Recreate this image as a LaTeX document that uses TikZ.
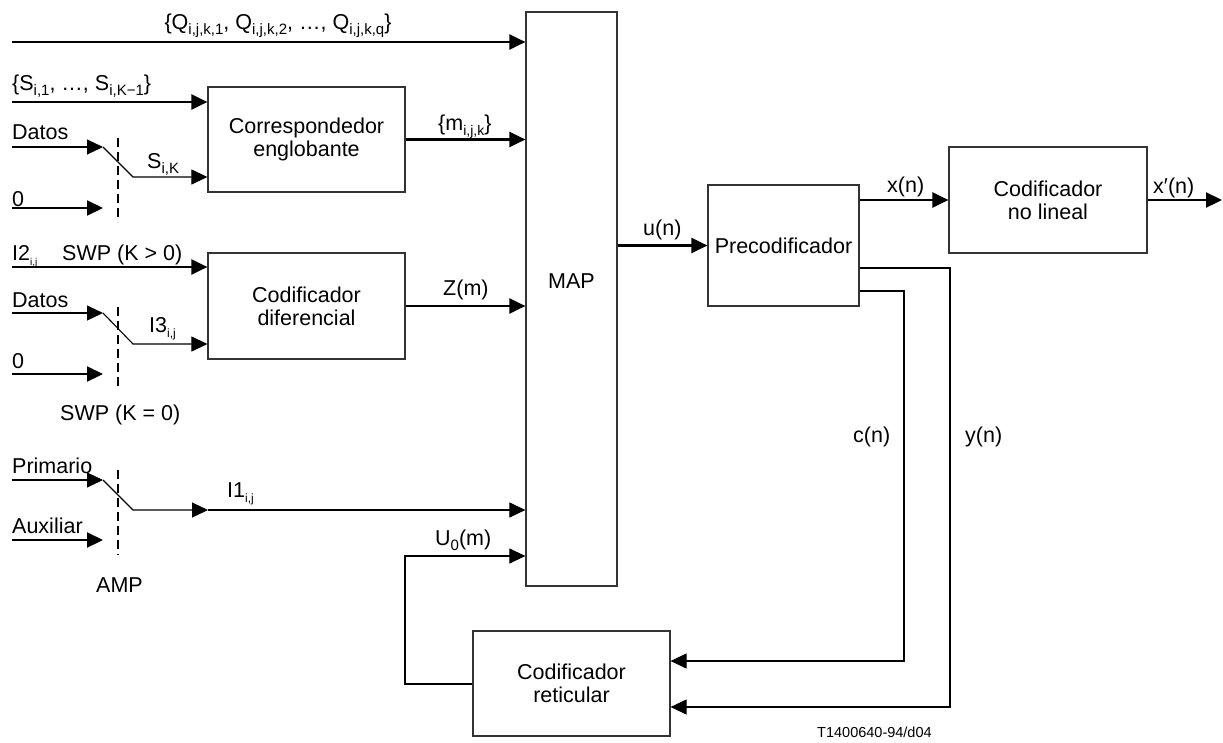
\documentclass[tikz,border=0pt]{standalone}
\usepackage{fontspec}
\setmainfont{Liberation Sans}
\usetikzlibrary{arrows.meta}
\newcommand{\sbs}[2]{\raisebox{-5pt}{\fontsize{#1}{#1}\selectfont #2}}
\begin{document}
\begin{tikzpicture}[x=1pt,y=-1pt,
  every node/.style={font=\fontsize{21.5}{23}\selectfont, inner sep=0pt},
  blk/.style={draw=black!80, line width=1.2pt, align=center},
  sig/.style={line width=2.2pt, -{Triangle[length=16pt,width=15pt]}},
  wire/.style={line width=1.1pt},
  wirea/.style={line width=1.1pt, -{Triangle[length=16pt,width=15pt]}},
  swl/.style={line width=2pt, dash pattern=on 9pt off 5pt},
  lbl/.style={anchor=base west}]
\useasboundingbox (0,0) rectangle (1223,742);

% blocks
\node[blk, minimum width=197, minimum height=105] (ce) at (306.5,139.5) {Correspondedor\\englobante};
\node[blk, minimum width=197, minimum height=106] (cd) at (306.5,306) {Codificador\\diferencial};
\node[blk, minimum width=91, minimum height=574] (map) at (571.5,299) {};
\node[anchor=base] (maplbl) at (571.5,288) {MAP};
\node[blk, minimum width=151, minimum height=121] (pre) at (783.5,245.5) {Precodificador};
\node[blk, minimum width=198, minimum height=106] (nl) at (1048,200) {Codificador\\no lineal};
\node[blk, minimum width=197, minimum height=105] (ret) at (571.5,683.5) {Codificador\\reticular};

% free-end coordinates
\coordinate (qin) at (12,42);
\coordinate (sin) at (12,102);
\coordinate (d1a) at (12,147);
\coordinate (d1b) at (103,147);
\coordinate (d1c) at (133,177);
\coordinate (z1a) at (12,208);
\coordinate (z1b) at (103,208);
\coordinate (i2a) at (12,267);
\coordinate (d2a) at (12,313);
\coordinate (d2b) at (103,313);
\coordinate (d2c) at (133,344);
\coordinate (z2a) at (12,374);
\coordinate (z2b) at (103,374);
\coordinate (pra) at (12,480);
\coordinate (prb) at (103,480);
\coordinate (prc) at (133,510);
\coordinate (prm) at (208,510);
\coordinate (aua) at (12,540);
\coordinate (aub) at (103,540);
\coordinate (u0a) at (405,684);
\coordinate (u0b) at (405,556);
\coordinate (xout) at (1222,200);
\coordinate (yr) at (950,268);
\coordinate (cr) at (904,291);
\coordinate (ybot) at (950,707);
\coordinate (cbot) at (904,661);

% switch dashed lines
\coordinate (s1t) at (118,138); \coordinate (s1b) at (118,222);
\coordinate (s2t) at (118,307); \coordinate (s2b) at (118,388);
\coordinate (s3t) at (118,470); \coordinate (s3b) at (118,555);
\draw[swl] (s1t) -- (s1b);
\draw[swl] (s2t) -- (s2b);
\draw[swl] (s3t) -- (s3b);

% connectors
\draw[sig] (qin) -- (map.west |- qin);
\draw[sig] (sin) -- (ce.west |- sin);
\draw[wirea] (d1a) -- (d1b);
\draw[wirea] (d1b) -- (d1c) -- (ce.west |- d1c);
\draw[sig] (z1a) -- (z1b);
\draw[sig] (ce.east) -- (map.west |- ce.east);
\draw[sig] (i2a) -- (cd.west |- i2a);
\draw[wirea] (d2a) -- (d2b);
\draw[wirea] (d2b) -- (d2c) -- (cd.west |- d2c);
\draw[sig] (z2a) -- (z2b);
\draw[sig] (cd.east) -- (map.west |- cd.east);
\draw[wirea] (pra) -- (prb);
\draw[wirea] (prb) -- (prc) -- (prm);
\draw[wirea] (prm) -- (map.west |- prm);
\draw[sig] (aua) -- (aub);
\draw[wirea] (ret.west |- u0a) -- (u0a) -- (u0b) -- (map.west |- u0b);
\draw[sig] (map.east |- pre.west) -- (pre.west);
\draw[sig] (pre.east |- nl.west) -- (nl.west);
\draw[sig] (nl.east |- xout) -- (xout);
\draw[wirea] (pre.east |- yr) -- (yr) -- (ybot) -- (ret.east |- ybot);
\draw[wirea] (pre.east |- cr) -- (cr) -- (cbot) -- (ret.east |- cbot);

% labels
\node[anchor=base] (lq) at (278,29) {\{Q\sbs{15}{i,j,k,1}, Q\sbs{15}{i,j,k,2}, …, Q\sbs{15}{i,j,k,q}\}};
\node[lbl] (ls) at (12,90) {\{S\sbs{15}{i,1}, …, S\sbs{15}{i,K−1}\}};
\node[lbl] (ld1) at (12,139) {Datos};
\node[lbl] (lsk) at (147,168) {S\sbs{15}{i,K}};
\node[lbl] (l01) at (12,206) {0};
\node[lbl] (lm) at (438,130) {\{m\sbs{14}{i,j,k}\}};
\node[lbl] (li2) at (12,260) {I2\sbs{10}{i,j}};
\node[lbl] (lswp1) at (62,260) {SWP (K > 0)};
\node[lbl] (ld2) at (12,307) {Datos};
\node[lbl] (li3) at (149,332) {I3\sbs{12}{i,j}};
\node[lbl] (l02) at (12,368) {0};
\node[lbl] (lz) at (443,295) {Z(m)};
\node[lbl] (lswp2) at (60,420) {SWP (K = 0)};
\node[lbl] (lpr) at (12,473) {Primario};
\node[lbl] (li1) at (227,497) {I1\sbs{12}{i,j}};
\node[lbl] (lau) at (12,533) {Auxiliar};
\node[anchor=base] (lamp) at (119.5,592) {AMP};
\node[lbl] (lu0) at (435,545) {U\sbs{15}{0}(m)};
\node[lbl] (lu) at (643,235) {u(n)};
\node[lbl] (lx) at (887,192) {x(n)};
\node[lbl] (lxp) at (1153,193) {x′(n)};
\node[lbl] (lc) at (853,442) {c(n)};
\node[lbl] (ly) at (965,442) {y(n)};
\node[lbl, font=\fontsize{14.5}{16}\selectfont] (lid) at (817,737) {T1400640-94/d04};
\end{tikzpicture}
\end{document}
